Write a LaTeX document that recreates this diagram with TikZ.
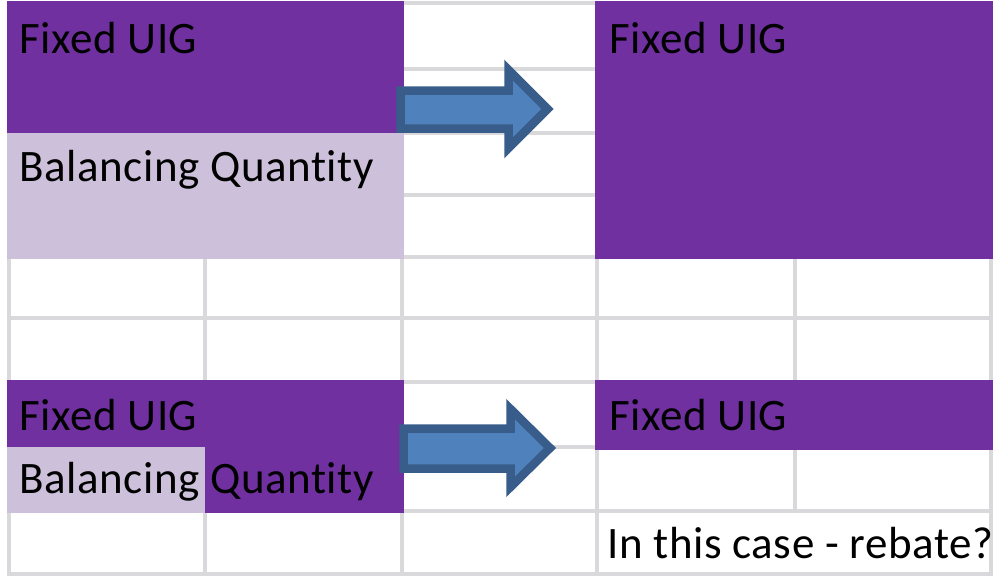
\documentclass[tikz,border=0pt]{standalone}
\usepackage{fontspec}
\setmainfont{Carlito}[Ligatures=NoCommon, LetterSpace=1.3]
\usepackage{tikz}
\usepackage{xcolor}
\usetikzlibrary{calc}

\definecolor{uigpurple}{RGB}{112,48,160}
\definecolor{balpurple}{RGB}{204,192,218}
\definecolor{gridgray}{RGB}{217,217,219}
\definecolor{arrowfill}{RGB}{79,129,189}
\definecolor{arrowline}{RGB}{56,93,138}

\begin{document}
\begin{tikzpicture}[x=1pt, y=-1pt,
    celltext/.style={anchor=base west, inner sep=0pt, font=\fontsize{45}{54}\selectfont},
    gridline/.style={gridgray, line width=4pt},
    blockarrow/.style={fill=arrowfill, draw=arrowline, line width=8.5pt, miter limit=10}]
\useasboundingbox (0,0) rectangle (997,576);

% Spreadsheet grid
\foreach \y in {3,69,133,195,257,318,382,447,511,574}
    \draw[gridline] (7,\y) -- (993,\y);
\foreach \x/\yend in {9/576,205/576,402/576,597/576,795/511,991/576}
    \draw[gridline] (\x,1) -- (\x,\yend);

% Top case: before and after
\fill[uigpurple] (7,1) rectangle (404,133);
\fill[balpurple] (7,133) rectangle (404,259);
\fill[uigpurple] (595,1) rectangle (993,259);

% Bottom case: before and after
\fill[uigpurple] (7,380) rectangle (404,513);
\fill[balpurple] (7,447) rectangle (205,513);
\fill[uigpurple] (595,380) rectangle (993,450);

% Cell texts
\node[celltext] (uigTopLeft) at (19,53) {Fixed UIG};
\node[celltext] (balTopLeft) at (19,181) {Balancing Quantity};
\node[celltext] (uigTopRight) at (609,53) {Fixed UIG};
\node[celltext] (uigBotLeft) at (19,430) {Fixed UIG};
\node[celltext] (balBotLeft) at (19,493) {Balancing Quantity};
\node[celltext] (uigBotRight) at (609,430) {Fixed UIG};
\node[celltext] (rebate) at (607,558) {In this case - rebate?};

% Block arrows
\filldraw[blockarrow] (400.5,90.5) -- (508.5,90.5) -- (508.5,70) -- (547.5,109)
    -- (508.5,148) -- (508.5,128.5) -- (400.5,128.5) -- cycle;
\filldraw[blockarrow] (403.5,428.5) -- (510.5,428.5) -- (510.5,409) -- (550,448)
    -- (510.5,487) -- (510.5,468.5) -- (403.5,468.5) -- cycle;
\end{tikzpicture}
\end{document}
